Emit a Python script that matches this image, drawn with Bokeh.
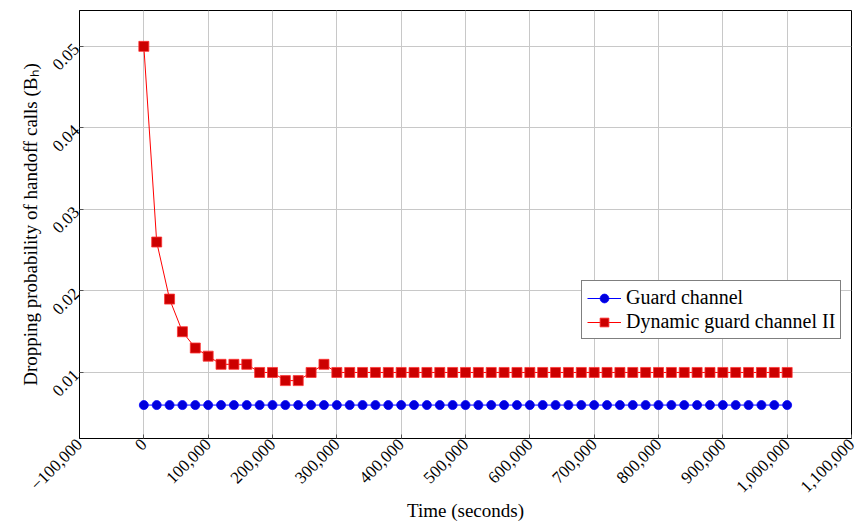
import math
from bokeh.plotting import figure
from bokeh.models import Legend, LegendItem, Range1d, FixedTicker
from bokeh.embed import file_html
from bokeh.resources import INLINE

# Simulation time (seconds), sampled every 20,000 s
time_s = [i * 20000 for i in range(51)]

# Dropping probability of handoff calls
guard_channel = [0.006] * 51
dynamic_guard_ii = [0.050, 0.026, 0.019, 0.015, 0.013, 0.012, 0.011, 0.011, 0.011,
                    0.010, 0.010, 0.009, 0.009, 0.010, 0.011] + [0.010] * 36

x_ticks = list(range(-100000, 1100001, 100000))
y_ticks = [0.01, 0.02, 0.03, 0.04, 0.05]

FONT = "Liberation Serif"

p = figure(frame_width=772, frame_height=428, output_backend="svg",
           toolbar_location=None,
           x_range=Range1d(-100000, 1100000), y_range=Range1d(0.0019, 0.0544),
           min_border_left=79, min_border_top=10, min_border_right=8,
           min_border_bottom=86)
p.background_fill_color = "white"
p.border_fill_color = "white"
p.outline_line_color = "black"
p.outline_line_width = 1

x_labels = {}
for t in x_ticks:
    s = f"{abs(t):,}"
    x_labels[t] = ("\u2212" + s) if t < 0 else s
p.xaxis.ticker = FixedTicker(ticks=x_ticks)
p.xaxis.major_label_overrides = x_labels
p.xaxis.major_label_orientation = math.pi / 4
p.yaxis.ticker = FixedTicker(ticks=y_ticks)
p.yaxis.major_label_overrides = {v: f"{v:.2f}" for v in y_ticks}
p.yaxis.major_label_orientation = math.pi / 4

for ax in (p.xaxis, p.yaxis):
    ax.major_tick_in = 4
    ax.major_tick_out = 0
    ax.minor_tick_in = 0
    ax.minor_tick_out = 0
    ax.major_tick_line_color = "#555555"
    ax.axis_line_color = "black"
    ax.major_label_text_font = FONT
    ax.major_label_text_font_size = "17px"
    ax.major_label_text_color = "black"
    ax.major_label_standoff = 3
    ax.axis_label_text_font = FONT
    ax.axis_label_text_font_size = "19px"
    ax.axis_label_text_font_style = "normal"
    ax.axis_label_text_color = "black"

p.xaxis.axis_label = "Time (seconds)"
p.yaxis.axis_label = "Dropping probability of handoff calls (B\u2095)"
p.xaxis.axis_label_standoff = 0
p.yaxis.axis_label_standoff = 4

p.grid.grid_line_color = "#c8c8c8"
p.grid.grid_line_width = 1

g_line = p.line(time_s, guard_channel, line_color="#0000ff", line_width=1)
g_mark = p.scatter(time_s, guard_channel, marker="circle", size=9,
                   fill_color="#0000dd", line_color="#0000ff", line_width=0.8)
d_line = p.line(time_s, dynamic_guard_ii, line_color="#ff0000", line_width=1)
d_mark = p.scatter(time_s, dynamic_guard_ii, marker="square", size=10,
                   fill_color="#cc0000", line_color="#ff3333", line_width=0.8)

legend = Legend(items=[
    LegendItem(label="Guard channel", renderers=[g_line, g_mark]),
    LegendItem(label="Dynamic guard channel II", renderers=[d_line, d_mark]),
], location=(502, 99))
legend.label_text_font = FONT
legend.label_text_font_size = "20px"
legend.label_text_color = "black"
legend.border_line_color = "black"
legend.border_line_width = 1
legend.background_fill_alpha = 1
legend.glyph_width = 34
legend.glyph_height = 22
legend.label_height = 22
legend.spacing = 1
legend.padding = 5
legend.margin = 0
legend.label_standoff = 5
p.add_layout(legend, "center")

open("out.html", "w").write(file_html(p, INLINE))
